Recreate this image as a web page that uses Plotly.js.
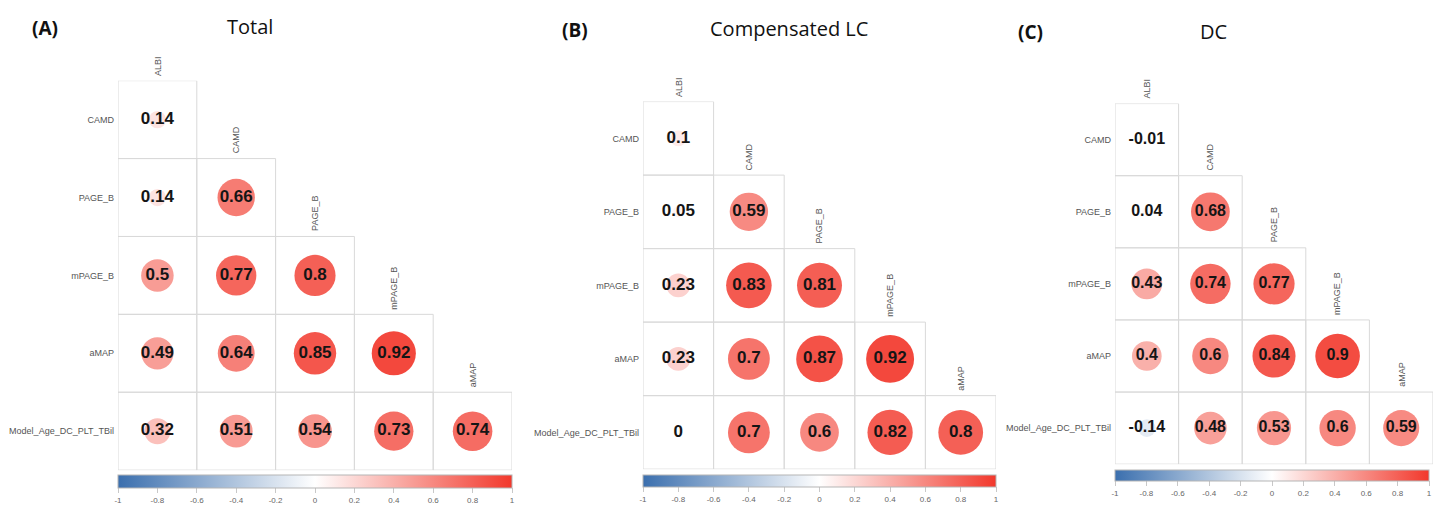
<!DOCTYPE html>
<html>
<head>
<meta charset="utf-8">
<script src="https://cdn.plot.ly/plotly-3.0.1.min.js"></script>
<style>
html,body{margin:0;padding:0;background:#fff;}
#chart{width:1434px;height:506px;}
</style>
</head>
<body>
<div id="chart"></div>
<script>
// ---- data ----
const rowNames = ['CAMD', 'PAGE_B', 'mPAGE_B', 'aMAP', 'Model_Age_DC_PLT_TBil'];
const colNames = ['ALBI', 'CAMD', 'PAGE_B', 'mPAGE_B', 'aMAP'];
const totalValues = [
  [0.14],
  [0.14, 0.66],
  [0.5, 0.77, 0.8],
  [0.49, 0.64, 0.85, 0.92],
  [0.32, 0.51, 0.54, 0.73, 0.74]
];
const compensatedValues = [
  [0.1],
  [0.05, 0.59],
  [0.23, 0.83, 0.81],
  [0.23, 0.7, 0.87, 0.92],
  [0, 0.7, 0.6, 0.82, 0.8]
];
const dcValues = [
  [-0.01],
  [0.04, 0.68],
  [0.43, 0.74, 0.77],
  [0.4, 0.6, 0.84, 0.9],
  [-0.14, 0.48, 0.53, 0.6, 0.59]
];
const panelTitles = ['Total', 'Compensated LC', 'DC'];
const panelLetters = ['(A)', '(B)', '(C)'];
const colorbarTicks = [-1, -0.8, -0.6, -0.4, -0.2, 0, 0.2, 0.4, 0.6, 0.8, 1];
const colorbarTickText = ['-1', '-0.8', '-0.6', '-0.4', '-0.2', '0', '0.2', '0.4', '0.6', '0.8', '1'];

// ---- styling / layout geometry (pixels in a 1434x506 page) ----
const W = 1434, H = 506;
const panels = [
  {values: totalValues, left: 118, right: 512, top: 81, bottom: 472, k: 46, fs: 17,
   cbLeft: 118, cbRight: 512, cbTop: 477, cbThick: 13, titleX: 250, titleY: 27, letterX: 45, letterY: 28},
  {values: compensatedValues, left: 643, right: 996, top: 102, bottom: 471, k: 50, fs: 17,
   cbLeft: 643, cbRight: 996, cbTop: 477, cbThick: 12, titleX: 789, titleY: 29, letterX: 575, letterY: 30},
  {values: dcValues, left: 1115, right: 1433, top: 104, bottom: 466, k: 47, fs: 16,
   cbLeft: 1115, cbRight: 1429, cbTop: 472, cbThick: 11, titleX: 1213, titleY: 32, letterX: 1030, letterY: 32}
];
const colorscale = [[0, '#3b6fae'], [0.25, '#9db7d6'], [0.5, '#ffffff'], [0.75, '#f89c95'], [1, '#f2382c']];
const labelFont = {family: 'Liberation Sans, Arial, sans-serif', size: 9, color: '#555'};

const traces = [];
const shapes = [];
const annotations = [];
const layout = {
  width: W, height: H,
  margin: {l: 0, r: 0, t: 0, b: 0},
  paper_bgcolor: '#fff', plot_bgcolor: 'rgba(0,0,0,0)',
  showlegend: false,
  hovermode: false,
  shapes: shapes,
  annotations: annotations
};

panels.forEach((p, idx) => {
  const n = idx + 1;
  const xa = n === 1 ? 'x' : 'x' + n;
  const ya = n === 1 ? 'y' : 'y' + n;
  const xs = [], ys = [], vs = [], sizes = [], texts = [];
  p.values.forEach((row, i) => {
    row.forEach((v, j) => {
      xs.push(j); ys.push(i); vs.push(v);
      sizes.push(p.k * Math.sqrt(Math.abs(v)));
      texts.push(String(v));
      shapes.push({type: 'rect', xref: xa, yref: ya, x0: j - 0.5, x1: j + 0.5, y0: i - 0.5, y1: i + 0.5,
        line: {color: '#d9d9d9', width: 1}, layer: 'below'});
    });
  });
  traces.push({
    type: 'scatter', mode: 'markers+text', xaxis: xa, yaxis: ya,
    x: xs, y: ys, text: texts,
    textposition: 'middle center',
    textfont: {family: 'Liberation Sans, Arial, sans-serif', size: p.fs, color: '#151515', weight: 'bold'},
    marker: {
      size: sizes, color: vs, cmin: -1, cmax: 1, colorscale: colorscale, opacity: 1,
      line: {width: 0},
      showscale: true,
      colorbar: {
        orientation: 'h',
        x: (p.cbLeft + p.cbRight) / 2 / W, xanchor: 'center',
        y: (H - p.cbTop) / H, yanchor: 'top',
        len: (p.cbRight - p.cbLeft) / W, lenmode: 'fraction',
        thickness: p.cbThick, thicknessmode: 'pixels',
        xpad: 0, ypad: 0,
        outlinewidth: 1, outlinecolor: '#b5b5b5',
        tickmode: 'array', tickvals: colorbarTicks, ticktext: colorbarTickText,
        ticks: 'outside', ticklen: 5, tickcolor: '#c8c8c8',
        ticklabeloverflow: 'allow',
        tickfont: {family: 'Liberation Sans, Arial, sans-serif', size: 8, color: '#666'}
      }
    },
    hoverinfo: 'skip'
  });
  layout['xaxis' + (n === 1 ? '' : n)] = {
    domain: [p.left / W, p.right / W], anchor: ya,
    range: [-0.5, 4.5], visible: false, fixedrange: true
  };
  layout['yaxis' + (n === 1 ? '' : n)] = {
    domain: [(H - p.bottom) / H, (H - p.top) / H], anchor: xa,
    range: [4.5, -0.5], tickmode: 'array', tickvals: [0, 1, 2, 3, 4], ticktext: rowNames,
    showgrid: false, zeroline: false, showline: false, ticks: '', ticklabelstandoff: 3,
    tickfont: labelFont, fixedrange: true
  };
  // column labels above each column's first cell
  colNames.forEach((c, j) => {
    annotations.push({xref: xa, yref: ya, x: j, y: j - 0.5, text: c, showarrow: false,
      textangle: -90, xanchor: 'center', yanchor: 'bottom', yshift: 3, font: labelFont});
  });
  annotations.push({xref: 'paper', yref: 'paper', x: p.titleX / W, y: (H - p.titleY) / H,
    text: panelTitles[idx], showarrow: false, xanchor: 'center', yanchor: 'middle',
    font: {family: 'Open Sans, sans-serif', size: 20, color: '#111'}});
  annotations.push({xref: 'paper', yref: 'paper', x: p.letterX / W, y: (H - p.letterY) / H,
    text: '<b>' + panelLetters[idx] + '</b>', showarrow: false, xanchor: 'center', yanchor: 'middle',
    font: {family: 'Open Sans, sans-serif', size: 19, color: '#111'}});
});

Plotly.newPlot('chart', traces, layout, {displayModeBar: false, staticPlot: true});
</script>
</body>
</html>
